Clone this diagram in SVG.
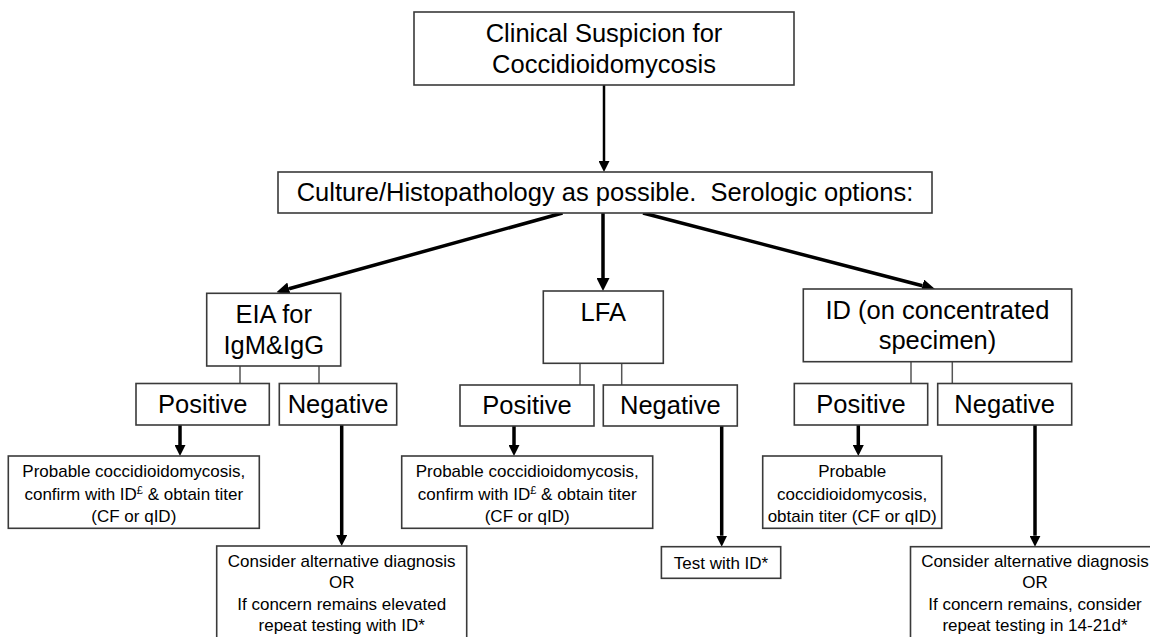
<svg xmlns="http://www.w3.org/2000/svg" width="1150" height="637" viewBox="0 0 1150 637">
<style>
.box{fill:#fff;stroke:#3a3a3a;stroke-width:1.6}
.t{font-family:"Liberation Sans",Arial,sans-serif;fill:#000;text-anchor:middle}
.big{font-size:25.5px}
.sm{font-size:17px}
.arr{stroke:#000;stroke-width:3.5;fill:none}
.arr2{stroke:#000;stroke-width:2.5;fill:none}
.stem{stroke:#555;stroke-width:1.5;fill:none}
</style>
<defs>
<marker id="ah" markerUnits="userSpaceOnUse" markerWidth="13" markerHeight="13" viewBox="0 0 12 12" refX="0" refY="6" orient="auto">
<path d="M0,0 L12,6 L0,12 z" fill="#000"/>
</marker>
<marker id="ahs" markerUnits="userSpaceOnUse" markerWidth="11" markerHeight="11" viewBox="0 0 12 12" refX="0" refY="6" orient="auto">
<path d="M0,0 L12,6 L0,12 z" fill="#000"/>
</marker>
</defs>
<rect width="1150" height="637" fill="#fff"/>

<g id="connectors">
<line class="arr2" x1="604" y1="85" x2="604" y2="161" marker-end="url(#ahs)"/>
<line class="arr" x1="562.5" y1="213" x2="289" y2="288.8" marker-end="url(#ah)"/>
<line class="arr" x1="603" y1="213" x2="603" y2="278" marker-end="url(#ah)"/>
<line class="arr" x1="643" y1="213" x2="922.4" y2="285.8" marker-end="url(#ah)"/>
<line class="stem" x1="240" y1="366" x2="240" y2="383.5"/>
<line class="stem" x1="319" y1="366" x2="319" y2="383.5"/>
<line class="stem" x1="580" y1="363.5" x2="580" y2="385"/>
<line class="stem" x1="621.7" y1="363.5" x2="621.7" y2="385"/>
<line class="stem" x1="911" y1="362" x2="911" y2="383.5"/>
<line class="stem" x1="952.3" y1="362" x2="952.3" y2="383.5"/>
<line class="arr" x1="180" y1="425" x2="180" y2="445" marker-end="url(#ahs)"/>
<line class="arr" x1="341.7" y1="425" x2="341.7" y2="535" marker-end="url(#ahs)"/>
<line class="arr" x1="514" y1="426" x2="514" y2="445" marker-end="url(#ahs)"/>
<line class="arr" x1="721.7" y1="426" x2="721.7" y2="535.7" marker-end="url(#ahs)"/>
<line class="arr" x1="858.3" y1="425" x2="858.3" y2="445" marker-end="url(#ahs)"/>
<line class="arr" x1="1035" y1="425" x2="1035" y2="535.7" marker-end="url(#ahs)"/>
</g>

<g id="clinical">
<rect class="box" x="414" y="12" width="380" height="73"/>
<text class="t big" x="604" y="42">Clinical Suspicion for</text>
<text class="t big" x="604" y="72.5">Coccidioidomycosis</text>
</g>

<g id="culture">
<rect class="box" x="278" y="172" width="654" height="41"/>
<text class="t big" x="605" y="200.5" xml:space="preserve">Culture/Histopathology as possible.  Serologic options:</text>
</g>

<g id="eia">
<rect class="box" x="206.7" y="293.3" width="134" height="72.7"/>
<text class="t big" x="273.7" y="323.3">EIA for</text>
<text class="t big" x="273.7" y="354">IgM&amp;IgG</text>
</g>
<g id="eia-pos">
<rect class="box" x="136" y="383.5" width="133.3" height="41.5"/>
<text class="t big" x="202.7" y="413">Positive</text>
</g>
<g id="eia-neg">
<rect class="box" x="279.3" y="383.5" width="117.4" height="41.5"/>
<text class="t big" x="338" y="413">Negative</text>
</g>
<g id="eia-pos-result">
<rect class="box" x="8.3" y="456" width="251" height="72.3"/>
<text class="t sm" x="133.8" y="477">Probable coccidioidomycosis,</text>
<text class="t sm" x="133.8" y="499.5">confirm with ID<tspan font-size="11" dy="-6">£</tspan><tspan dy="6"> &amp; obtain titer</tspan></text>
<text class="t sm" x="133.8" y="522">(CF or qID)</text>
</g>
<g id="eia-neg-result">
<rect class="box" x="216.7" y="546" width="250" height="100"/>
<text class="t sm" x="341.7" y="567">Consider alternative diagnosis</text>
<text class="t sm" x="341.7" y="588.3">OR</text>
<text class="t sm" x="341.7" y="609.5">If concern remains elevated</text>
<text class="t sm" x="341.7" y="630.5">repeat testing with ID*</text>
</g>

<g id="lfa">
<rect class="box" x="543.3" y="291" width="120" height="72.3"/>
<text class="t big" x="603.3" y="320.7">LFA</text>
</g>
<g id="lfa-pos">
<rect class="box" x="460" y="385" width="134" height="41"/>
<text class="t big" x="527" y="414">Positive</text>
</g>
<g id="lfa-neg">
<rect class="box" x="603.3" y="385" width="134" height="41"/>
<text class="t big" x="670.3" y="414">Negative</text>
</g>
<g id="lfa-pos-result">
<rect class="box" x="401.7" y="456" width="251" height="72.3"/>
<text class="t sm" x="527.2" y="477">Probable coccidioidomycosis,</text>
<text class="t sm" x="527.2" y="499.5">confirm with ID<tspan font-size="11" dy="-6">£</tspan><tspan dy="6"> &amp; obtain titer</tspan></text>
<text class="t sm" x="527.2" y="522">(CF or qID)</text>
</g>
<g id="lfa-neg-result">
<rect class="box" x="661.4" y="546.7" width="119.3" height="31.6"/>
<text class="t sm" x="721" y="568.5">Test with ID*</text>
</g>

<g id="id">
<rect class="box" x="803.3" y="289" width="268.4" height="72.7"/>
<text class="t big" x="937.5" y="319">ID (on concentrated</text>
<text class="t big" x="937.5" y="349">specimen)</text>
</g>
<g id="id-pos">
<rect class="box" x="794.3" y="383.5" width="133.4" height="41.5"/>
<text class="t big" x="861" y="413">Positive</text>
</g>
<g id="id-neg">
<rect class="box" x="937.7" y="383.5" width="134" height="41.5"/>
<text class="t big" x="1004.7" y="413">Negative</text>
</g>
<g id="id-pos-result">
<rect class="box" x="762.7" y="456" width="179" height="72.3"/>
<text class="t sm" x="852.2" y="477">Probable</text>
<text class="t sm" x="852.2" y="499.5">coccidioidomycosis,</text>
<text class="t sm" x="852.2" y="522">obtain titer (CF or qID)</text>
</g>
<g id="id-neg-result">
<rect class="box" x="910.5" y="546.7" width="250" height="100"/>
<text class="t sm" x="1035" y="567">Consider alternative diagnosis</text>
<text class="t sm" x="1035" y="588.3">OR</text>
<text class="t sm" x="1035" y="609.5">If concern remains, consider</text>
<text class="t sm" x="1035" y="630.5">repeat testing in 14-21d*</text>
</g>
</svg>
